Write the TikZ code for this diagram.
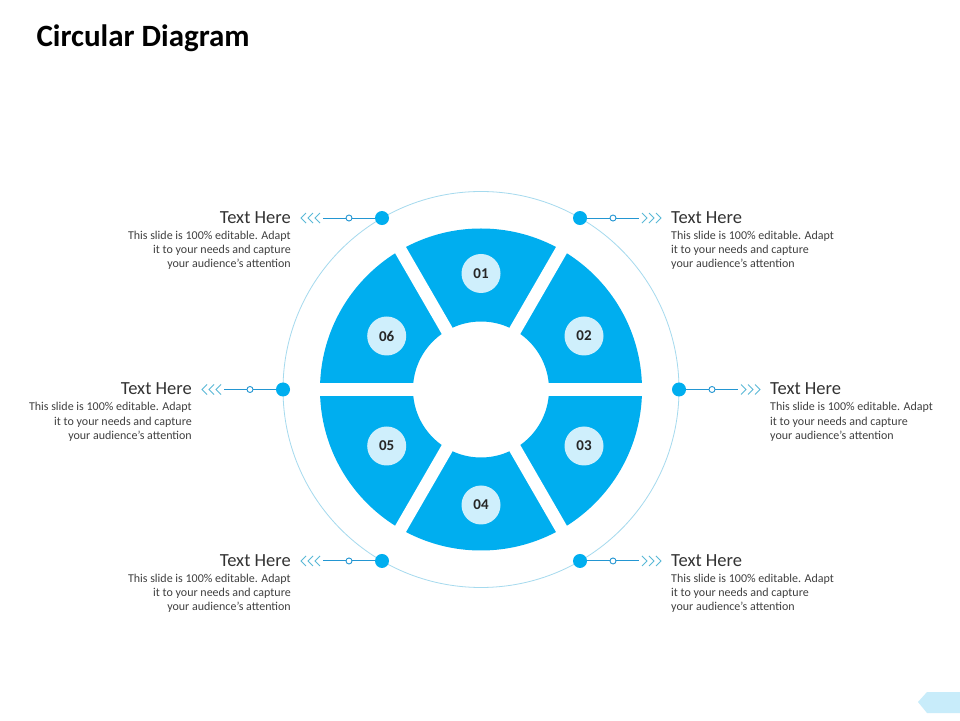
\documentclass[tikz,border=0pt]{standalone}
\usepackage{fontspec}
\setmainfont{Carlito}
\usepackage{tikz}
\usetikzlibrary{positioning,calc}
\definecolor{segblue}{RGB}{0,174,239}
\definecolor{numfill}{RGB}{207,239,252}
\definecolor{ringline}{RGB}{165,218,238}
\definecolor{linkblue}{RGB}{35,150,210}
\definecolor{chevblue}{RGB}{90,185,215}
\definecolor{tabfill}{RGB}{200,236,250}
\tikzstyle{numdisc} = [circle, fill=numfill, minimum size=39pt, inner sep=0pt, font=\fontsize{15}{15}\selectfont\bfseries, text=black!85]
\tikzstyle{bigdot} = [circle, fill=segblue, minimum size=14pt, inner sep=0pt]
\tikzstyle{ringdot} = [circle, draw=linkblue, fill=white, line width=0.9pt, minimum size=6pt, inner sep=0pt]
\tikzstyle{linkline} = [draw=linkblue, line width=1pt]
\tikzstyle{chevline} = [draw=chevblue, line width=1pt]
\tikzstyle{headtext} = [inner sep=0pt, font=\fontsize{18.5}{18.5}\selectfont, text=black!80]
\tikzstyle{bodytext} = [inner sep=0pt, font=\fontsize{12}{14.3}\selectfont, text=black!75]

\begin{document}
\begin{tikzpicture}[x=1pt, y=1pt]
			\fill[white] (0,0) rectangle (960,720);
			\useasboundingbox (0,0) rectangle (960,720);
			\node [anchor=base west, font=\fontsize{31}{31}\selectfont\bfseries] (title) at (33,673) {Circular Diagram};
			\coordinate (ctr) at (481,330.5);
			% ring and segments
			\draw [ringline, line width=0.8pt] (ctr) circle (198);
			\fill [segblue, even odd rule] (ctr) circle (161) (ctr) circle (68);
			\foreach \g in {0,60,120}
				\draw [white, line width=12.5pt] ($(ctr)+(\g:166)$) -- ($(ctr)+(\g+180:166)$);
			\foreach \n/\x/\y in {01/481/446.5, 02/584/384, 03/584/274, 04/481/215, 05/386.7/274, 06/386.7/384}
				\node [numdisc] (n\n) at (\x,\y) {\n};
			% callouts
			\foreach \i/\a/\s/\side/\al in {1/120/-1/east/right, 2/60/1/west/left, 3/180/-1/east/right, 4/0/1/west/left, 5/240/-1/east/right, 6/300/1/west/left}{
				\node [bigdot] (d\i) at ($(ctr)+(\a:198)$) {};
				\node [ringdot] (r\i) at ($(d\i)+(\s*33,0)$) {};
				\coordinate (e\i) at ($(d\i)+(\s*59,0)$);
				\coordinate (c\i) at ($(d\i)+(\s*70,0)$);
				\path [linkline] (d\i) -- (r\i) -- (e\i);
				\foreach \k in {0,7,14}
					\draw [chevline] ($(c\i)+({\s*(6-\k)},5)$) -- ($(c\i)+({\s*(11-\k)},0)$) -- ($(c\i)+({\s*(6-\k)},-5)$);
				\node [headtext, anchor=base \side] (h\i) at ($(c\i)+(\s*21,-5.5)$) {Text Here};
				\node [bodytext, below=7pt of h\i.south \side, anchor=north \side, align=\al] (b\i)
				{This slide is 100\% editable. Adapt\\it to your needs and capture\\your audience's attention};
			}
			\fill [tabfill] (918,18) -- (927,28) -- (960,28) -- (960,7) -- (927,7) -- cycle;
		\end{tikzpicture}
\end{document}
